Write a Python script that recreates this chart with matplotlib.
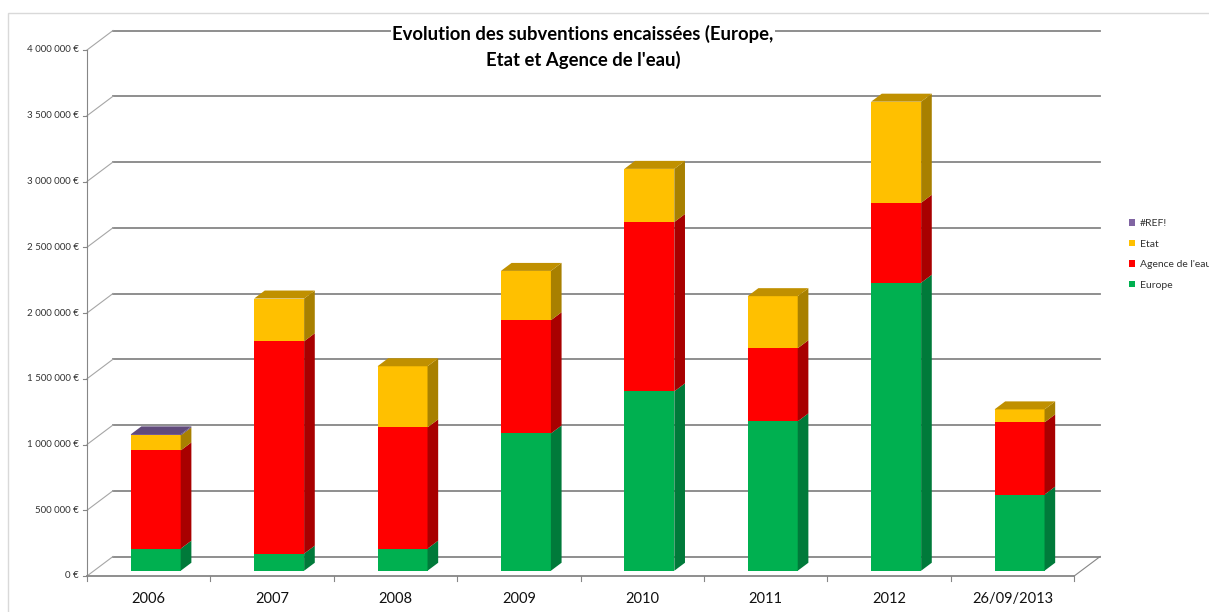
import matplotlib.pyplot as plt
from matplotlib.patches import Polygon, Patch, Rectangle

# Données (en euros)
annees = ['2006', '2007', '2008', '2009', '2010', '2011', '2012', '26/09/2013']
europe = [168000, 130000, 168000, 1044000, 1364000, 1136000, 2190000, 579000]
agence = [747000, 1615000, 922000, 861000, 1288000, 556000, 608000, 549000]
etat = [114000, 325000, 465000, 375000, 404000, 396000, 769000, 99000]
ref = [8000, 0, 0, 0, 0, 0, 0, 0]

series = [('Europe', europe, '#00B050', '#007A3A', '#00803C'),
          ("Agence de l'eau", agence, '#FF0000', '#A80000', '#B00000'),
          ('Etat', etat, '#FFC000', '#A88000', '#C09000'),
          ('#REF!', ref, '#8064A2', '#5C4876', '#604A7B')]

plt.rcParams['font.family'] = ['Lato', 'DejaVu Sans']

fig = plt.figure(figsize=(12.09, 6.12), dpi=100)
ax = fig.add_axes([0, 0, 1, 1])
ax.set_axis_off()

# échelle : 123.4 px par catégorie, 131.5 px par million
ax.set_xlim(-148.7 / 123.4, (1209 - 148.7) / 123.4)
ax.set_ylim((576 - 612) / 131.5e-6, 576 / 131.5e-6)

DX = 26 / 123.4      # profondeur en x
DY = 19.5 / 131.5e-6  # profondeur en y
f1, f2 = 0.27, 0.68   # position avant / arrière des barres
grille = '#868686'

# cadre du graphique
fig.add_artist(Rectangle((8 / 1209, -0.1), 1.2, (612 - 13) / 612 + 0.1,
                         transform=fig.transFigure, fill=False,
                         edgecolor='#D9D9D9', lw=1))

ticks = [i * 500000 for i in range(9)]
for v in ticks:
    ax.plot([-0.5 + DX, 7.5 + DX], [v + DY, v + DY], color=grille, lw=1.3, zorder=1)
    ax.plot([-0.5, -0.5 + DX], [v, v + DY], color='#A6A6A6', lw=0.8, zorder=1)
    ax.plot([-0.5 - 0.03, -0.5], [v, v], color=grille, lw=0.8, zorder=1)
    lab = '{:,}'.format(v).replace(',', ' ') + ' €'
    ax.text(-0.565, v, lab, ha='right', va='center', fontsize=7, color='#333333')

# axe avant et sol
ax.plot([-0.5, -0.5], [0, 4000000], color=grille, lw=0.8, zorder=1)
ax.plot([-0.5, 7.5], [0, 0], color=grille, lw=1.3, zorder=1)
ax.plot([7.5, 7.5 + DX], [0, DY], color=grille, lw=0.8, zorder=1)
for k in range(9):
    ax.plot([k - 0.5, k - 0.5], [0, -38000], color=grille, lw=0.8, zorder=1)

for k, a in enumerate(annees):
    ax.text(k, -175000, a, ha='center', va='center', fontsize=10.5, color='#111111')

# barres 3D empilées
W = 50 / 123.4
d = f2 - f1
for k in range(len(annees)):
    bas = 0
    xl = k + f1 * DX - W / 2
    xr = xl + W
    derniere = max(i for i, s in enumerate(series) if s[1][k] > 0)
    for i, (nom, vals, c, cs, ct) in enumerate(series):
        h = vals[k]
        if h <= 0:
            continue
        b = bas + f1 * DY
        ax.bar(xl, h, bottom=b, width=W, align='edge', color=c, lw=0, zorder=3)
        ax.add_patch(Polygon([(xr, b), (xr, b + h), (xr + d * DX, b + h + d * DY),
                              (xr + d * DX, b + d * DY)], closed=True,
                             facecolor=cs, lw=0, zorder=3))
        if i == derniere:
            t = b + h
            ax.add_patch(Polygon([(xl, t), (xr, t), (xr + d * DX, t + d * DY),
                                  (xl + d * DX, t + d * DY)], closed=True,
                                 facecolor=ct, lw=0, zorder=3))
        bas += h

# titre
ax.text(583 / 123.4 - 148.7 / 123.4, (576 - 47) / 131.5e-6,
        "Evolution des subventions encaissées (Europe,\nEtat et Agence de l'eau)",
        ha='center', va='center', fontsize=13.3, fontweight='bold', color='black',
        linespacing=1.5, zorder=5,
        bbox=dict(facecolor='white', edgecolor='none', pad=1))

# légende
handles = [Patch(facecolor=s[2], label=s[0]) for s in reversed(series)]
ax.legend(handles=handles, loc='upper left', bbox_to_anchor=(1125 / 1209, 1 - 215 / 612),
          frameon=False, fontsize=7.5, handlelength=0.6, handleheight=0.6,
          handletextpad=0.45, labelspacing=1.1, borderaxespad=0,
          labelcolor='#333333')

fig.savefig('out.png', dpi=100)
